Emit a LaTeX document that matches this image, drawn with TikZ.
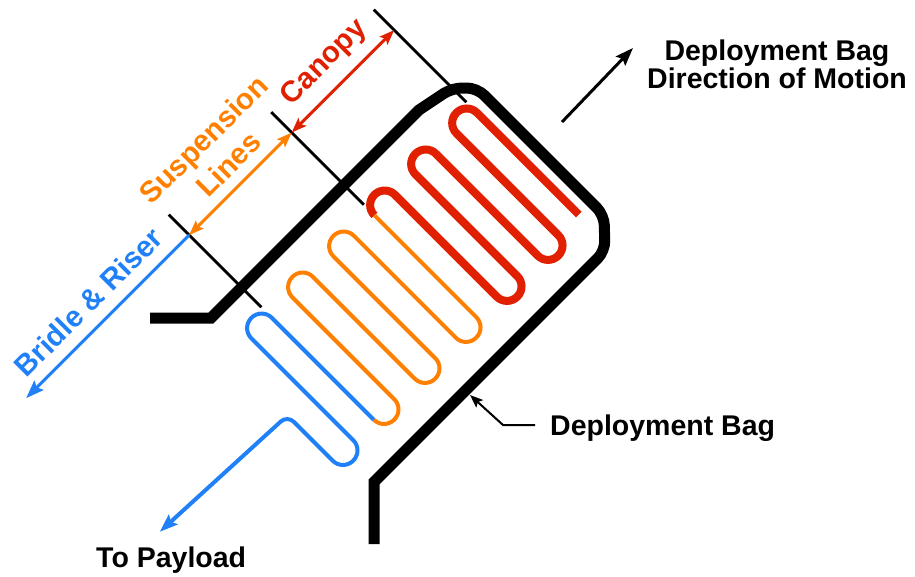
\documentclass[tikz,border=0pt]{standalone}
\usepackage{fontspec}
\setmainfont{Liberation Sans}
\usetikzlibrary{arrows.meta}
\definecolor{canopyred}{RGB}{224,32,0}
\definecolor{lineorange}{RGB}{255,128,0}
\definecolor{riserblue}{RGB}{32,128,248}
\begin{document}
\begin{tikzpicture}[x=1pt,y=-1pt,
  bagwall/.style={line width=11pt, line cap=butt, line join=miter},
  dimline/.style={line width=2.8pt, black},
  span/.style={line width=3pt},
  twohead/.style={{Stealth[length=15pt,width=11pt,inset=3pt]}-{Stealth[length=15pt,width=11pt,inset=3pt]}},
  onehead/.style={-{Stealth[length=18pt,width=13pt,inset=3pt]}},
  canopyfold/.style={line width=8pt, canopyred, line cap=butt, rounded corners=14.4pt},
  linefold/.style={line width=4pt, lineorange, line cap=butt, rounded corners=14.4pt},
  riserfold/.style={line width=4pt, riserblue, line cap=butt, rounded corners=14.4pt},
  biglabel/.style={font=\fontsize{28.5}{28}\selectfont\bfseries, inner sep=0pt},
  tiltlabel/.style={font=\fontsize{29.5}{35}\selectfont\bfseries, inner sep=0pt, rotate=45, align=center},
]
\useasboundingbox (0,0) rectangle (915,576);
\fill[white] (0,0) rectangle (915,576);

% deployment bag wall
\draw[bagwall] (150,318) -- (211,318) -- (419,110)
  [rounded corners=10pt] -- (452,88) -- (477,88) -- (604,215) -- (605,251)
  [sharp corners] -- (374,482) -- (374,544);

% packed canopy, suspension lines and riser, drawn along the bag axis
\begin{scope}[rotate=-45]
  % dimension extension lines
  \coordinate (canopyTopOut) at (271,-257.5);
  \coordinate (canopyTopIn)  at (402,-257.5);
  \coordinate (skirtOut)     at (271,-112.5);
  \coordinate (skirtIn)      at (402,-112.5);
  \coordinate (linkOut)      at (271,32.5);
  \coordinate (linkIn)       at (402,32.5);
  \draw[dimline] (canopyTopOut) -- (canopyTopIn);
  \draw[dimline] (skirtOut) -- (skirtIn);
  \draw[dimline] (linkOut) -- (linkIn);

  % span arrows
  \coordinate (canopyEnd) at (300,-257.5);
  \coordinate (skirtEnd)  at (300,-112.5);
  \coordinate (linkEnd)   at (300,32.5);
  \coordinate (bridleTip) at (300,263);
  \draw[span, canopyred, twohead] (skirtEnd) -- (canopyEnd);
  \draw[span, lineorange, twohead] (linkEnd) -- (skirtEnd);
  \draw[span, riserblue, onehead] (linkEnd) -- (bridleTip);

  % span labels
  \node[tiltlabel, text=canopyred] (canopyLabel) at (274,-185) {Canopy};
  \node[tiltlabel, text=lineorange] (linesLabel) at (260,-45.5) {Suspension\\Lines};
  \node[tiltlabel, text=riserblue] (bridleLabel) at (276,151) {Bridle \& Riser};

  % folded canopy
  \draw[canopyfold] (561,-257.5) -- (402.5,-257.5) -- (402.5,-228.5)
    -- (575.5,-228.5) -- (575.5,-199.5) -- (402.5,-199.5) -- (402.5,-170.5)
    -- (575.5,-170.5) -- (575.5,-141.5) -- (402.5,-141.5) -- (402.5,-112.5)
    -- (417,-112.5);
  % stowed suspension lines
  \draw[linefold] (417,-112.5) -- (575.5,-112.5) -- (575.5,-83.5)
    -- (402.5,-83.5) -- (402.5,-54.5) -- (575.5,-54.5) -- (575.5,-25.5)
    -- (402.5,-25.5) -- (402.5,3.5) -- (575.5,3.5) -- (575.5,32.5)
    -- (561,32.5);
  % riser leading out to the payload
  \coordinate (payloadTip) at (489,263);
  \draw[riserfold, onehead] (561,32.5) -- (402.5,32.5) -- (402.5,61.5)
    -- (575.5,61.5) -- (575.5,90.5) [rounded corners=9pt] -- (497,90.5) -- (payloadTip);
\end{scope}

% direction of motion
\coordinate (motionTail) at (562,122);
\coordinate (motionTip) at (633,48);
\draw[span, onehead] (motionTail) -- (motionTip);
\node[biglabel, anchor=north, align=center] (motionLabel) at (777,40)
  {Deployment Bag\\Direction of Motion};

% bag callout
\node[biglabel, anchor=base west] (bagLabel) at (550,435) {Deployment Bag};
\coordinate (bagTip) at (470,395);
\coordinate (bagBend) at (503,425);
\coordinate (bagEnd) at (535,425);
\draw[line width=2pt, -{Stealth[length=13pt,width=10pt,inset=2.5pt]}]
  (bagEnd) -- (bagBend) -- (bagTip);

% payload label
\node[biglabel, anchor=base west] (payloadLabel) at (96,567) {To Payload};
\end{tikzpicture}
\end{document}
